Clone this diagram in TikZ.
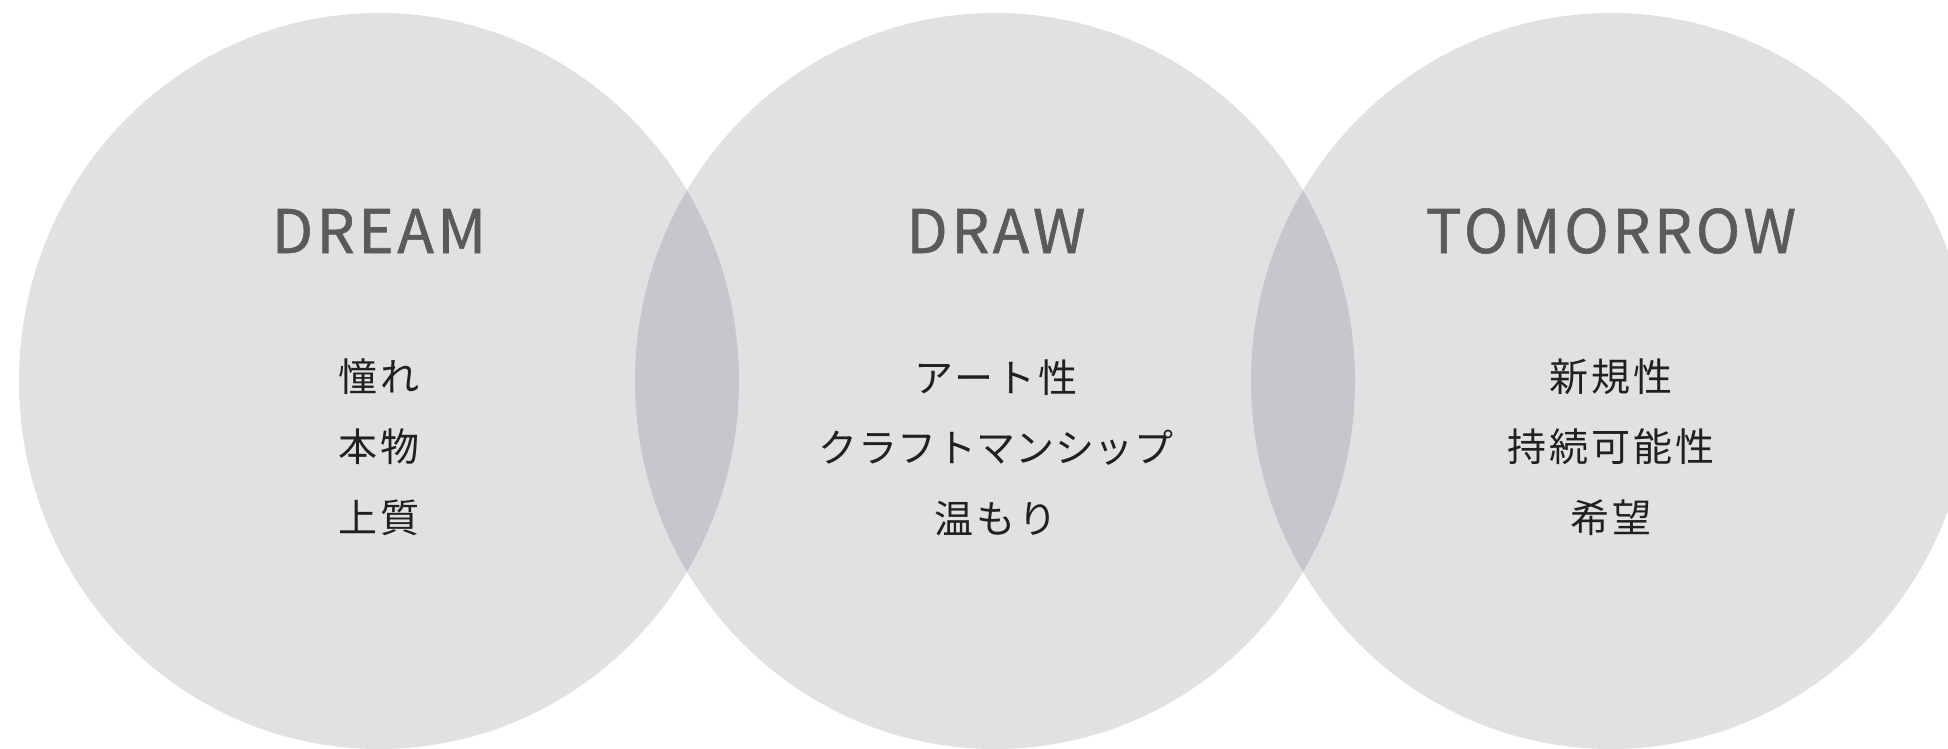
\documentclass[tikz,border=0pt]{standalone}
\usepackage{fontspec}
\newfontfamily\jpfont[LetterSpace=8]{Noto Sans CJK JP}
\newfontfamily\jpnarrow[LetterSpace=1]{Noto Sans CJK JP}
\newfontfamily\titlefont[LetterSpace=6,FakeBold=0.9]{Noto Sans CJK JP}
\definecolor{circfill}{HTML}{E0E1E3}
\definecolor{lensfill}{HTML}{C6C7CA}
\definecolor{titlecol}{HTML}{5A5A5C}
\definecolor{jpcol}{HTML}{231F20}
\tikzset{
  circ/.style={fill=circfill, draw=none},
  lens/.style={fill=lensfill, draw=none},
  titletext/.style={anchor=base, inner sep=0pt, text=titlecol, font=\titlefont\fontsize{60}{60}\selectfont},
  jptext/.style={anchor=center, inner sep=0pt, text=jpcol, font=\jpfont\fontsize{39}{39}\selectfont},
  jpnarrowtext/.style={anchor=center, inner sep=0pt, text=jpcol, font=\jpnarrow\fontsize{39}{39}\selectfont},
}
\begin{document}
\begin{tikzpicture}[x=1pt,y=-1pt]
\useasboundingbox (0,0) rectangle (1948,749);
\clip (0,0) rectangle (1948,749);
\fill[white] (0,0) rectangle (1948,749);
\coordinate (c1) at (379,381);
\coordinate (c2) at (995,381);
\coordinate (c3) at (1611,381);
\fill[circ] (c1) ellipse [x radius=360, y radius=368];
\fill[circ] (c2) ellipse [x radius=360, y radius=368];
\fill[circ] (c3) ellipse [x radius=360, y radius=368];
\begin{scope}
  \clip (c1) ellipse [x radius=360, y radius=368];
  \fill[lens] (c2) ellipse [x radius=360, y radius=368];
\end{scope}
\begin{scope}
  \clip (c2) ellipse [x radius=360, y radius=368];
  \fill[lens] (c3) ellipse [x radius=360, y radius=368];
\end{scope}
\node[titletext] (t1) at (379,253) {DREAM};
\node[titletext] (t2) at (996,253) {DRAW};
\node[titletext] (t3) at (1611,253) {TOMORROW};
\node[jptext] (a1) at (379,377) {憧れ};
\node[jptext] (a2) at (379,447) {本物};
\node[jptext] (a3) at (379,518) {上質};
\node[jptext] (b1) at (996,378) {アート性};
\node[jpnarrowtext] (b2) at (996,448) {クラフトマンシップ};
\node[jptext] (b3) at (996,519) {温もり};
\node[jptext] (d1) at (1611,377) {新規性};
\node[jptext] (d2) at (1611,447) {持続可能性};
\node[jptext] (d3) at (1611,518) {希望};
\end{tikzpicture}
\end{document}
